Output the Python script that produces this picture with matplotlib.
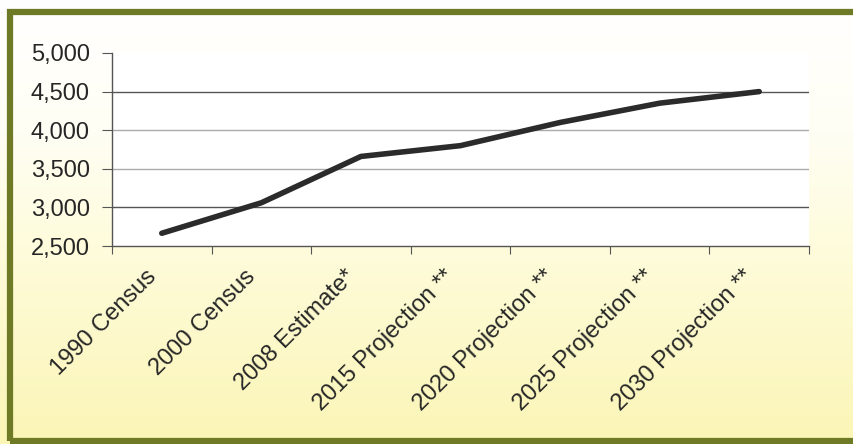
import matplotlib
matplotlib.use("Agg")
import matplotlib.pyplot as plt
import matplotlib.transforms as mtransforms
from matplotlib.colors import LinearSegmentedColormap
from matplotlib.patches import Rectangle
import numpy as np

categories = ["1990 Census", "2000 Census", "2008 Estimate*", "2015 Projection **",
              "2020 Projection **", "2025 Projection **", "2030 Projection **"]
values = [2665, 3060, 3660, 3800, 4100, 4350, 4500]
yticks = [2500, 3000, 3500, 4000, 4500, 5000]
ytick_labels = ["2,500", "3,000", "3,500", "4,000", "4,500", "5,000"]

plt.rcParams['font.family'] = ['Liberation Sans', 'DejaVu Sans']

W, H = 854, 444
fig = plt.figure(figsize=(W / 100, H / 100), dpi=100)

# background gradient
bg = fig.add_axes([0, 0, 1, 1], zorder=-10)
cmap = LinearSegmentedColormap.from_list(
    "bg", [(0, "#ffffff"), (0.3, "#fffef4"), (0.55, "#fefcdc"), (1, "#fbf5b6")])
grad = np.linspace(0, 1, 256).reshape(-1, 1)
bg.imshow(grad, aspect="auto", cmap=cmap, extent=[0, 1, 0, 1], origin="upper")
bg.set_xlim(0, 1)
bg.set_ylim(0, 1)
bg.axis("off")
# olive frame
bg.add_patch(Rectangle((10.5 / W, 3 / H), 1.2, (H - 15) / H, fill=False,
                       edgecolor="#6f7a26", linewidth=4.5, transform=bg.transAxes))

ax = fig.add_axes([112 / W, 1 - 246 / H, (809 - 112) / W, (246 - 53) / H])
ax.set_facecolor("white")
x = np.arange(len(categories))
ax.plot(x, values, color="#2b2b2b", linewidth=4, solid_capstyle="round",
        solid_joinstyle="round", zorder=5)

ax.set_xlim(-0.5, len(categories) - 0.5)
ax.set_ylim(2500, 5000)
ax.set_yticks(yticks)
ax.set_yticklabels(ytick_labels, fontsize=17, color="#262626")

for v in yticks[1:-1]:
    c = "#555555" if v in (3000, 4500) else "#aaaaaa"
    ax.axhline(v, color=c, linewidth=1.0, zorder=1)

ax.set_xticks(np.arange(len(categories) + 1) - 0.5, minor=False)
ax.set_xticklabels([])
ax.tick_params(axis="x", length=6, color="#555555", direction="out")
ax.tick_params(axis="y", length=7, color="#555555", direction="out", pad=9)

offset = mtransforms.ScaledTranslation(-9 / 100, -27 / 100, fig.dpi_scale_trans)
for i, lab in enumerate(categories):
    ax.text(i, 2500, lab, rotation=45, rotation_mode="anchor",
            ha="right", va="center", fontsize=17, color="#262626",
            transform=ax.transData + offset)

for s in ["top", "right"]:
    ax.spines[s].set_visible(False)
for s in ["left", "bottom"]:
    ax.spines[s].set_color("#555555")
    ax.spines[s].set_linewidth(1.0)

fig.savefig("out.png", dpi=100)
